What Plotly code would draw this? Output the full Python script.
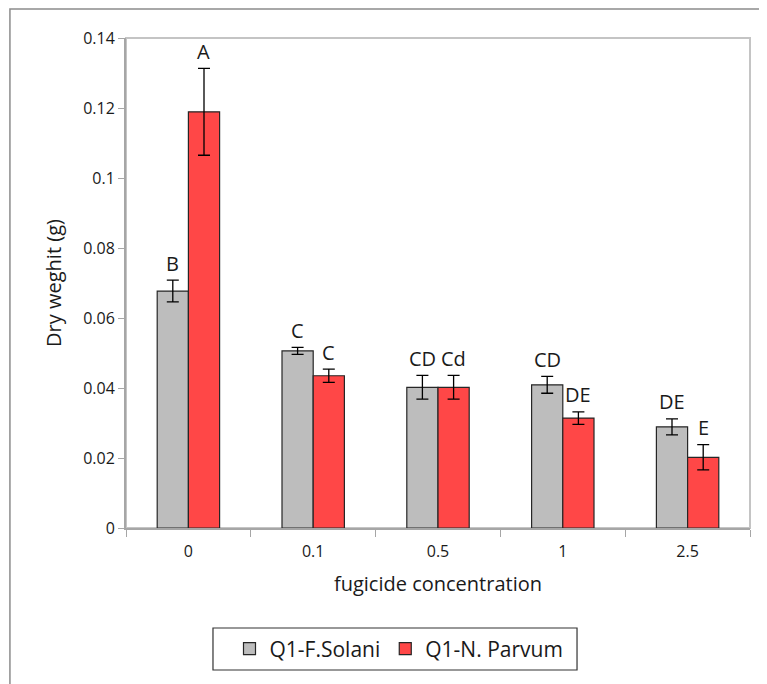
import plotly.graph_objects as go

categories = ["0", "0.1", "0.5", "1", "2.5"]
solani = [0.0677, 0.0506, 0.0402, 0.0409, 0.0289]
solani_err = [0.0031, 0.0010, 0.0034, 0.0024, 0.0023]
parvum = [0.1189, 0.0435, 0.0402, 0.0314, 0.0202]
parvum_err = [0.0124, 0.0019, 0.0034, 0.0018, 0.0036]
solani_letters = ["B", "C", "CD", "CD", "DE"]
parvum_letters = ["A", "C", "Cd", "DE", "E"]
y_ticks = [0, 0.02, 0.04, 0.06, 0.08, 0.1, 0.12, 0.14]

FONT = "Open Sans"

fig = go.Figure()
fig.add_trace(go.Bar(
    x=categories, y=solani, name="Q1-F.Solani",
    marker=dict(color="#bdbdbd", line=dict(color="#262626", width=1.2)),
    error_y=dict(type="data", array=solani_err, color="black", thickness=1.3, width=6),
))
fig.add_trace(go.Bar(
    x=categories, y=parvum, name="Q1-N. Parvum",
    marker=dict(color="#ff4747", line=dict(color="#262626", width=1.2)),
    error_y=dict(type="data", array=parvum_err, color="black", thickness=1.3, width=6),
))

annotations = []
for i in range(len(categories)):
    annotations.append(dict(x=i, y=solani[i] + solani_err[i], text=solani_letters[i],
                            xref="x", yref="y", showarrow=False, xshift=-15.5, yshift=17,
                            font=dict(family=FONT, size=20, color="#1a1a1a")))
    annotations.append(dict(x=i, y=parvum[i] + parvum_err[i], text=parvum_letters[i],
                            xref="x", yref="y", showarrow=False, xshift=15.5, yshift=17,
                            font=dict(family=FONT, size=20, color="#1a1a1a")))

fig.update_layout(
    width=767, height=684,
    margin=dict(l=118, r=25, t=30, b=164),
    paper_bgcolor="white", plot_bgcolor="white",
    barmode="group", bargap=0.5, bargroupgap=0,
    font=dict(family=FONT, color="#1a1a1a"),
    annotations=annotations,
    showlegend=True,
    legend=dict(orientation="h", x=0.4375, xanchor="center", y=-0.247, yanchor="middle",
                bgcolor="rgba(0,0,0,0)", borderwidth=0, font=dict(size=21, family=FONT),
                traceorder="normal"),
    shapes=[
        dict(type="rect", xref="paper", yref="paper", x0=0, x1=1, y0=0, y1=1,
             line=dict(color="#c4c4c4", width=2), layer="below"),
        dict(type="path", xref="paper", yref="paper",
             path="M -0.186,-0.5 L -0.186,1.059 L 1.3,1.059",
             line=dict(color="#8c8c8c", width=1.5), layer="below"),
        dict(type="rect", xref="paper", yref="paper", x0=0.1394, x1=0.7228, y0=-0.2898, y1=-0.2041,
             line=dict(color="#333333", width=1.2), layer="below"),
    ],
)
fig.update_xaxes(
    type="category", showline=True, linecolor="#a6a6a6", linewidth=2,
    ticks="outside", tickson="boundaries", ticklen=7, tickcolor="#a6a6a6",
    ticklabelstandoff=8,
    showgrid=False, tickfont=dict(size=16),
    title=dict(text="fugicide concentration", font=dict(size=20), standoff=16),
)
fig.update_yaxes(
    range=[0, 0.14], tickvals=y_ticks, ticktext=[f"{v:g}" for v in y_ticks],
    showline=True, linecolor="#a6a6a6", linewidth=2,
    ticks="outside", ticklen=6, tickcolor="#a6a6a6",
    showgrid=False, zeroline=False, tickfont=dict(size=16),
    title=dict(text="Dry weghit (g)", font=dict(size=20), standoff=16),
)
fig.write_html("out.html")
